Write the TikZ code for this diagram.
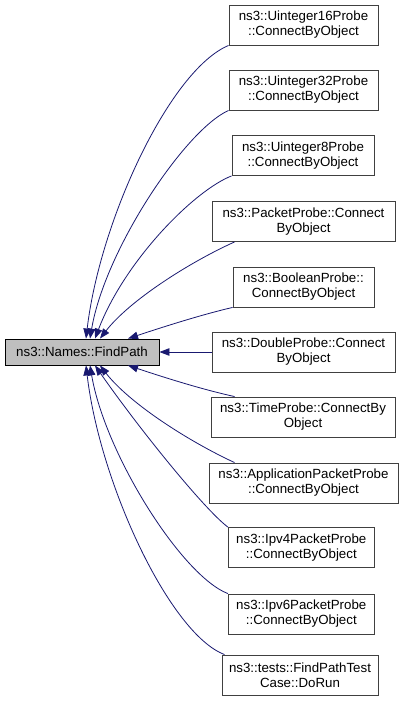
\documentclass[tikz,border=0pt]{standalone}
\usepackage{fontspec}
\setmainfont{Liberation Sans}
\usetikzlibrary{arrows.meta}
\definecolor{edgeblue}{HTML}{191970}
\definecolor{boxgrey}{HTML}{404040}
\definecolor{mainfill}{HTML}{BFBFBF}
\tikzset{
  box/.style={draw=boxgrey, fill=white, line width=0.9pt, inner sep=0pt, minimum height=40pt, align=center, font=\fontsize{13.3}{15}\selectfont},
  mainbox/.style={draw=black, fill=mainfill, line width=0.9pt, inner sep=0pt, minimum width=154pt, minimum height=26pt, font=\fontsize{13.3}{15}\selectfont},
  edge/.style={draw=edgeblue, line width=0.8pt, -{Triangle[length=10pt,width=7.5pt]}}
}
\begin{document}
\begin{tikzpicture}[x=1pt,y=-1pt]
\useasboundingbox (0,0) rectangle (405,704);
\node[mainbox] (main) at (82,352) {ns3::Names::FindPath};
\node[box, minimum width=149pt] (b1) at (303.5,25) {ns3::Uinteger16Probe\\::ConnectByObject};
\node[box, minimum width=149pt] (b2) at (303.5,90) {ns3::Uinteger32Probe\\::ConnectByObject};
\node[box, minimum width=142pt] (b3) at (303,155.5) {ns3::Uinteger8Probe\\::ConnectByObject};
\node[box, minimum width=183pt] (b4) at (303.5,221.5) {ns3::PacketProbe::Connect\\ByObject};
\node[box, minimum width=141pt] (b5) at (303.5,287) {ns3::BooleanProbe::\\ConnectByObject};
\node[box, minimum width=183pt] (b6) at (303.5,352) {ns3::DoubleProbe::Connect\\ByObject};
\node[box, minimum width=184pt] (b7) at (303,417) {ns3::TimeProbe::ConnectBy\\Object};
\node[box, minimum width=189pt] (b8) at (303.5,483) {ns3::ApplicationPacketProbe\\::ConnectByObject};
\node[box, minimum width=146pt] (b9) at (301.3,547.5) {ns3::Ipv4PacketProbe\\::ConnectByObject};
\node[box, minimum width=146pt] (b10) at (301.3,614) {ns3::Ipv6PacketProbe\\::ConnectByObject};
\node[box, minimum width=156pt] (b11) at (300,675) {ns3::tests::FindPathTest\\Case::DoRun};

\draw[edge] (b1.south west) .. controls (170,70) and (100,220) .. ([xshift=4pt]main.north);
\draw[edge] (b2.south west) .. controls (185,130) and (105,250) .. ([xshift=8pt]main.north);
\draw[edge] (b3.south west) .. controls (195,190) and (125,260) .. ([xshift=13pt]main.north);
\draw[edge] ([xshift=23pt]b4.south west) .. controls (190,262) and (130,300) .. ([xshift=18pt]main.north);
\draw[edge] (b5.south west) .. controls (200,315) and (160,328) .. ([xshift=46pt]main.north);
\draw[edge] (b6.west) -- (main.east);
\draw[edge] ([xshift=24pt]b7.north west) .. controls (200,389) and (160,376) .. ([xshift=46pt]main.south);
\draw[edge] ([xshift=26pt]b8.north west) .. controls (190,442) and (130,404) .. ([xshift=18pt]main.south);
\draw[edge] (b9.north west) .. controls (205,510) and (140,430) .. ([xshift=13pt]main.south);
\draw[edge] (b10.north west) .. controls (182,576) and (105,454) .. ([xshift=8pt]main.south);
\draw[edge] ([xshift=3pt]b11.north west) .. controls (170,634) and (100,484) .. ([xshift=4pt]main.south);
\end{tikzpicture}
\end{document}
